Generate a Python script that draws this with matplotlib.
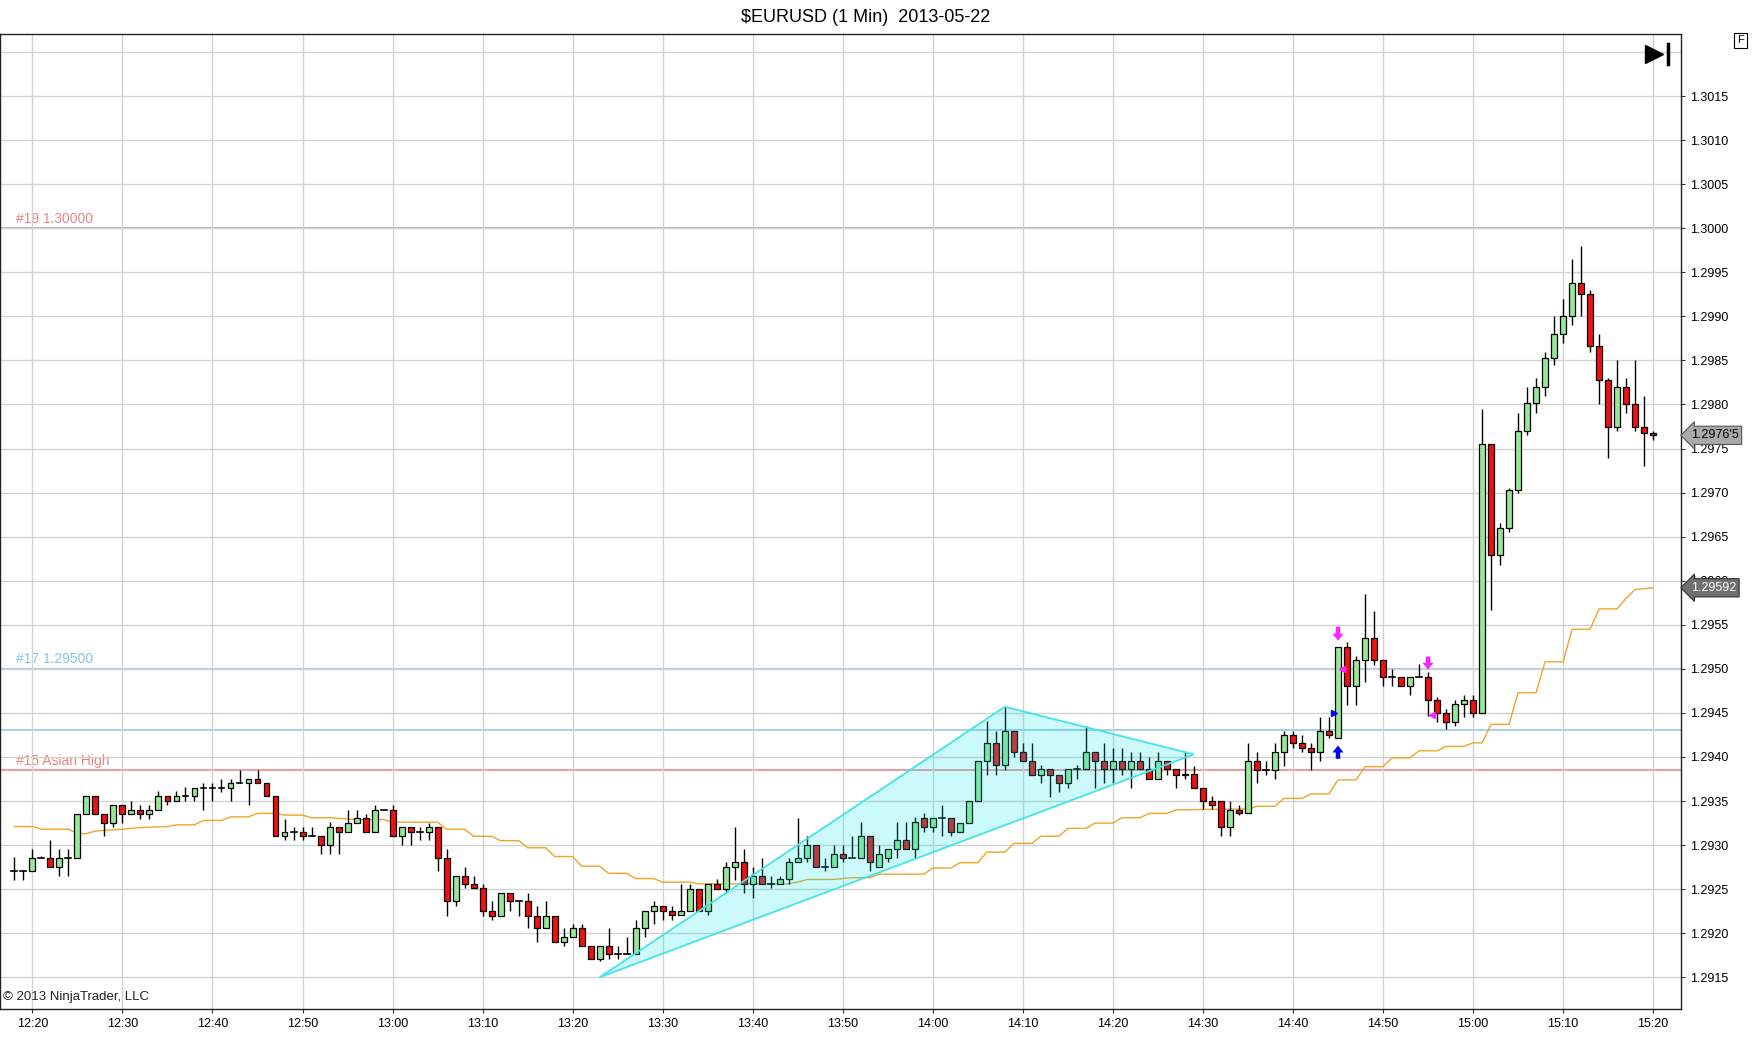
import numpy as np
import matplotlib
matplotlib.use('Agg')
import matplotlib.pyplot as plt
from matplotlib.patches import Rectangle, Polygon
from matplotlib.transforms import blended_transform_factory

plt.rcParams['font.family'] = ['Liberation Sans', 'DejaVu Sans']

# =============================================================================
# DADOS
# =============================================================================

bar_times = [
    '12:18', '12:19', '12:20', '12:21', '12:22', '12:23', '12:24', '12:25', '12:26', '12:27',
    '12:28', '12:29', '12:30', '12:31', '12:32', '12:33', '12:34', '12:35', '12:36', '12:37',
    '12:38', '12:39', '12:40', '12:41', '12:42', '12:43', '12:44', '12:45', '12:46', '12:47',
    '12:48', '12:49', '12:50', '12:51', '12:52', '12:53', '12:54', '12:55', '12:56', '12:57',
    '12:58', '12:59', '13:00', '13:01', '13:02', '13:03', '13:04', '13:05', '13:06', '13:07',
    '13:08', '13:09', '13:10', '13:11', '13:12', '13:13', '13:14', '13:15', '13:16', '13:17',
    '13:18', '13:19', '13:20', '13:21', '13:22', '13:23', '13:24', '13:25', '13:26', '13:27',
    '13:28', '13:29', '13:30', '13:31', '13:32', '13:33', '13:34', '13:35', '13:36', '13:37',
    '13:38', '13:39', '13:40', '13:41', '13:42', '13:43', '13:44', '13:45', '13:46', '13:47',
    '13:48', '13:49', '13:50', '13:51', '13:52', '13:53', '13:54', '13:55', '13:56', '13:57',
    '13:58', '13:59', '14:00', '14:01', '14:02', '14:03', '14:04', '14:05', '14:06', '14:07',
    '14:08', '14:09', '14:10', '14:11', '14:12', '14:13', '14:14', '14:15', '14:16', '14:17',
    '14:18', '14:19', '14:20', '14:21', '14:22', '14:23', '14:24', '14:25', '14:26', '14:27',
    '14:28', '14:29', '14:30', '14:31', '14:32', '14:33', '14:34', '14:35', '14:36', '14:37',
    '14:38', '14:39', '14:40', '14:41', '14:42', '14:43', '14:44', '14:45', '14:46', '14:47',
    '14:48', '14:49', '14:50', '14:51', '14:52', '14:53', '14:54', '14:55', '14:56', '14:57',
    '14:58', '14:59', '15:00', '15:01', '15:02', '15:03', '15:04', '15:05', '15:06', '15:07',
    '15:08', '15:09', '15:10', '15:11', '15:12', '15:13', '15:14', '15:15', '15:16', '15:17',
    '15:18', '15:19', '15:20',
]

opens = [
    1.29271, 1.29271, 1.29271, 1.29285, 1.29285, 1.29275, 1.29285, 1.29285, 1.29335, 1.29356,
    1.29335, 1.29325, 1.29346, 1.29335, 1.29340, 1.29335, 1.29340, 1.29356, 1.29350, 1.29356,
    1.29356, 1.29365, 1.29365, 1.29365, 1.29365, 1.29371, 1.29371, 1.29375, 1.29371, 1.29356,
    1.29310, 1.29315, 1.29315, 1.29310, 1.29310, 1.29300, 1.29321, 1.29315, 1.29325, 1.29331,
    1.29315, 1.29340, 1.29340, 1.29310, 1.29321, 1.29315, 1.29315, 1.29321, 1.29285, 1.29236,
    1.29265, 1.29256, 1.29251, 1.29225, 1.29220, 1.29246, 1.29236, 1.29236, 1.29220, 1.29206,
    1.29220, 1.29190, 1.29196, 1.29206, 1.29186, 1.29171, 1.29186, 1.29176, 1.29176, 1.29176,
    1.29206, 1.29225, 1.29231, 1.29225, 1.29221, 1.29225, 1.29250, 1.29225, 1.29256, 1.29250,
    1.29275, 1.29281, 1.29256, 1.29265, 1.29256, 1.29256, 1.29261, 1.29281, 1.29285, 1.29300,
    1.29275, 1.29275, 1.29290, 1.29285, 1.29285, 1.29310, 1.29275, 1.29285, 1.29295, 1.29306,
    1.29295, 1.29331, 1.29321, 1.29331, 1.29331, 1.29315, 1.29325, 1.29350, 1.29395, 1.29416,
    1.29391, 1.29430, 1.29406, 1.29395, 1.29380, 1.29386, 1.29380, 1.29370, 1.29386, 1.29386,
    1.29406, 1.29395, 1.29386, 1.29395, 1.29386, 1.29395, 1.29386, 1.29375, 1.29395, 1.29386,
    1.29380, 1.29381, 1.29365, 1.29350, 1.29350, 1.29321, 1.29340, 1.29336, 1.29395, 1.29385,
    1.29385, 1.29406, 1.29425, 1.29416, 1.29410, 1.29406, 1.29430, 1.29421, 1.29525, 1.29481,
    1.29510, 1.29535, 1.29510, 1.29491, 1.29491, 1.29481, 1.29491, 1.29491, 1.29465, 1.29450,
    1.29440, 1.29460, 1.29465, 1.29450, 1.29755, 1.29629, 1.29660, 1.29703, 1.29770, 1.29802,
    1.29820, 1.29853, 1.29880, 1.29900, 1.29938, 1.29925, 1.29866, 1.29828, 1.29774, 1.29820,
    1.29800, 1.29774, 1.29768,
]

highs = [
    1.29286, 1.29272, 1.29296, 1.29288, 1.29306, 1.29296, 1.29296, 1.29335, 1.29356, 1.29356,
    1.29335, 1.29346, 1.29346, 1.29350, 1.29346, 1.29346, 1.29361, 1.29356, 1.29361, 1.29366,
    1.29365, 1.29371, 1.29371, 1.29375, 1.29375, 1.29385, 1.29375, 1.29385, 1.29371, 1.29356,
    1.29330, 1.29321, 1.29321, 1.29321, 1.29310, 1.29326, 1.29321, 1.29340, 1.29340, 1.29335,
    1.29346, 1.29340, 1.29346, 1.29321, 1.29321, 1.29321, 1.29325, 1.29321, 1.29296, 1.29265,
    1.29275, 1.29265, 1.29256, 1.29236, 1.29246, 1.29246, 1.29236, 1.29246, 1.29231, 1.29236,
    1.29220, 1.29206, 1.29211, 1.29211, 1.29186, 1.29186, 1.29206, 1.29186, 1.29196, 1.29215,
    1.29225, 1.29236, 1.29231, 1.29231, 1.29256, 1.29256, 1.29250, 1.29256, 1.29261, 1.29281,
    1.29321, 1.29295, 1.29275, 1.29285, 1.29265, 1.29265, 1.29285, 1.29331, 1.29310, 1.29300,
    1.29285, 1.29300, 1.29300, 1.29310, 1.29326, 1.29310, 1.29300, 1.29295, 1.29326, 1.29326,
    1.29332, 1.29336, 1.29331, 1.29346, 1.29331, 1.29325, 1.29350, 1.29395, 1.29441, 1.29429,
    1.29457, 1.29430, 1.29416, 1.29416, 1.29391, 1.29386, 1.29380, 1.29386, 1.29391, 1.29435,
    1.29406, 1.29416, 1.29410, 1.29410, 1.29406, 1.29406, 1.29400, 1.29406, 1.29395, 1.29386,
    1.29406, 1.29390, 1.29365, 1.29356, 1.29350, 1.29350, 1.29345, 1.29416, 1.29406, 1.29395,
    1.29416, 1.29430, 1.29430, 1.29425, 1.29416, 1.29445, 1.29445, 1.29525, 1.29530, 1.29515,
    1.29585, 1.29566, 1.29510, 1.29500, 1.29491, 1.29491, 1.29506, 1.29496, 1.29468, 1.29455,
    1.29465, 1.29470, 1.29470, 1.29795, 1.29755, 1.29665, 1.29705, 1.29790, 1.29820, 1.29830,
    1.29860, 1.29900, 1.29920, 1.29965, 1.29980, 1.29930, 1.29880, 1.29830, 1.29850, 1.29830,
    1.29850, 1.29810, 1.29770,
]

lows = [
    1.29260, 1.29260, 1.29271, 1.29285, 1.29275, 1.29265, 1.29265, 1.29285, 1.29335, 1.29335,
    1.29310, 1.29320, 1.29325, 1.29335, 1.29330, 1.29330, 1.29340, 1.29346, 1.29350, 1.29350,
    1.29350, 1.29340, 1.29350, 1.29360, 1.29350, 1.29371, 1.29346, 1.29371, 1.29356, 1.29310,
    1.29306, 1.29306, 1.29306, 1.29310, 1.29290, 1.29290, 1.29290, 1.29315, 1.29325, 1.29315,
    1.29315, 1.29340, 1.29310, 1.29300, 1.29300, 1.29306, 1.29306, 1.29271, 1.29220, 1.29231,
    1.29251, 1.29251, 1.29220, 1.29215, 1.29220, 1.29225, 1.29220, 1.29206, 1.29190, 1.29206,
    1.29190, 1.29186, 1.29196, 1.29186, 1.29171, 1.29168, 1.29171, 1.29171, 1.29176, 1.29176,
    1.29196, 1.29211, 1.29215, 1.29215, 1.29221, 1.29225, 1.29225, 1.29221, 1.29250, 1.29246,
    1.29260, 1.29246, 1.29240, 1.29256, 1.29251, 1.29256, 1.29256, 1.29281, 1.29281, 1.29275,
    1.29271, 1.29275, 1.29281, 1.29285, 1.29285, 1.29271, 1.29275, 1.29281, 1.29285, 1.29295,
    1.29285, 1.29315, 1.29315, 1.29310, 1.29310, 1.29315, 1.29325, 1.29350, 1.29380, 1.29380,
    1.29385, 1.29400, 1.29395, 1.29380, 1.29370, 1.29355, 1.29360, 1.29365, 1.29375, 1.29386,
    1.29365, 1.29370, 1.29370, 1.29380, 1.29365, 1.29386, 1.29375, 1.29375, 1.29380, 1.29365,
    1.29375, 1.29365, 1.29341, 1.29341, 1.29310, 1.29310, 1.29334, 1.29336, 1.29370, 1.29380,
    1.29375, 1.29390, 1.29410, 1.29406, 1.29385, 1.29395, 1.29421, 1.29421, 1.29459, 1.29459,
    1.29485, 1.29504, 1.29481, 1.29481, 1.29481, 1.29470, 1.29491, 1.29447, 1.29440, 1.29432,
    1.29435, 1.29445, 1.29445, 1.29450, 1.29567, 1.29618, 1.29655, 1.29700, 1.29765, 1.29790,
    1.29810, 1.29845, 1.29870, 1.29890, 1.29900, 1.29860, 1.29800, 1.29739, 1.29770, 1.29790,
    1.29770, 1.29730, 1.29760,
]

closes = [
    1.29271, 1.29271, 1.29285, 1.29285, 1.29275, 1.29285, 1.29285, 1.29335, 1.29356, 1.29335,
    1.29325, 1.29346, 1.29335, 1.29340, 1.29335, 1.29340, 1.29356, 1.29350, 1.29356, 1.29356,
    1.29365, 1.29365, 1.29365, 1.29365, 1.29371, 1.29371, 1.29375, 1.29371, 1.29356, 1.29310,
    1.29315, 1.29315, 1.29310, 1.29310, 1.29300, 1.29321, 1.29315, 1.29325, 1.29331, 1.29315,
    1.29340, 1.29340, 1.29310, 1.29321, 1.29315, 1.29315, 1.29321, 1.29285, 1.29236, 1.29265,
    1.29256, 1.29251, 1.29225, 1.29220, 1.29246, 1.29236, 1.29236, 1.29220, 1.29206, 1.29220,
    1.29190, 1.29196, 1.29206, 1.29186, 1.29171, 1.29186, 1.29176, 1.29176, 1.29176, 1.29206,
    1.29225, 1.29231, 1.29225, 1.29221, 1.29225, 1.29250, 1.29225, 1.29256, 1.29250, 1.29275,
    1.29281, 1.29256, 1.29265, 1.29256, 1.29256, 1.29261, 1.29281, 1.29285, 1.29300, 1.29275,
    1.29275, 1.29290, 1.29285, 1.29285, 1.29310, 1.29281, 1.29290, 1.29295, 1.29306, 1.29295,
    1.29326, 1.29321, 1.29331, 1.29331, 1.29315, 1.29325, 1.29350, 1.29395, 1.29416, 1.29391,
    1.29430, 1.29406, 1.29395, 1.29380, 1.29386, 1.29380, 1.29370, 1.29386, 1.29386, 1.29406,
    1.29395, 1.29386, 1.29395, 1.29386, 1.29395, 1.29386, 1.29375, 1.29395, 1.29386, 1.29380,
    1.29381, 1.29365, 1.29350, 1.29345, 1.29321, 1.29340, 1.29336, 1.29395, 1.29385, 1.29385,
    1.29406, 1.29425, 1.29416, 1.29410, 1.29406, 1.29430, 1.29425, 1.29525, 1.29481, 1.29510,
    1.29535, 1.29510, 1.29491, 1.29491, 1.29481, 1.29491, 1.29491, 1.29465, 1.29450, 1.29440,
    1.29460, 1.29465, 1.29450, 1.29755, 1.29629, 1.29660, 1.29703, 1.29770, 1.29802, 1.29820,
    1.29853, 1.29880, 1.29900, 1.29938, 1.29925, 1.29866, 1.29828, 1.29774, 1.29820, 1.29800,
    1.29774, 1.29768, 1.29765,
]

# média (linha laranja em degraus): vértices lidos
ma_times = [
    '12:18', '12:20', '12:21', '12:24', '12:25', '12:26', '12:27', '12:30', '12:32', '12:35',
    '12:36', '12:38', '12:39', '12:41', '12:42', '12:44', '12:45', '12:47', '12:48', '12:50',
    '12:51', '12:53', '12:56', '12:59', '13:00', '13:05', '13:06', '13:08', '13:09', '13:11',
    '13:12', '13:14', '13:15', '13:17', '13:18', '13:20', '13:21', '13:23', '13:24', '13:26',
    '13:27', '13:29', '13:30', '13:33', '13:34', '13:44', '13:45', '13:46', '13:49', '13:51',
    '13:53', '13:54', '13:59', '14:00', '14:02', '14:03', '14:05', '14:06', '14:08', '14:09',
    '14:11', '14:12', '14:14', '14:15', '14:17', '14:18', '14:20', '14:21', '14:23', '14:24',
    '14:26', '14:27', '14:35', '14:36', '14:38', '14:39', '14:41', '14:42', '14:44', '14:45',
    '14:47', '14:48', '14:50', '14:51', '14:53', '14:54', '14:56', '14:57', '14:59', '15:00',
    '15:01', '15:02', '15:04', '15:05', '15:07', '15:08', '15:10', '15:11', '15:13', '15:14',
    '15:16', '15:17', '15:18', '15:20',
]
ma_values = [
    1.29321, 1.29321, 1.29318, 1.29318, 1.29313, 1.29313, 1.29316, 1.29318, 1.29320, 1.29321,
    1.29323, 1.29323, 1.29328, 1.29328, 1.29332, 1.29332, 1.29336, 1.29336, 1.29334, 1.29334,
    1.29331, 1.29331, 1.29329, 1.29329, 1.29326, 1.29326, 1.29318, 1.29318, 1.29310, 1.29310,
    1.29305, 1.29305, 1.29297, 1.29297, 1.29287, 1.29287, 1.29276, 1.29276, 1.29268, 1.29268,
    1.29262, 1.29262, 1.29258, 1.29258, 1.29256, 1.29256, 1.29258, 1.29261, 1.29261, 1.29263,
    1.29263, 1.29267, 1.29267, 1.29274, 1.29274, 1.29280, 1.29280, 1.29292, 1.29292, 1.29302,
    1.29302, 1.29310, 1.29310, 1.29319, 1.29319, 1.29325, 1.29325, 1.29331, 1.29331, 1.29336,
    1.29336, 1.29340, 1.29341, 1.29344, 1.29344, 1.29353, 1.29353, 1.29358, 1.29358, 1.29374,
    1.29374, 1.29389, 1.29389, 1.29399, 1.29399, 1.29407, 1.29407, 1.29412, 1.29412, 1.29416,
    1.29416, 1.29437, 1.29437, 1.29473, 1.29473, 1.29508, 1.29508, 1.29545, 1.29545, 1.29568,
    1.29568, 1.29580, 1.29590, 1.29592,
]

# níveis horizontais
level_prices = [1.30000, 1.29500, 1.29431, 1.29385]
level_colors = ['#a0a0a0', '#8fc3dd', '#8fc3dd', '#e8808c']
level_labels = ['#19 1.30000', '#17 1.29500', '', '#15 Asian High']
level_label_colors = ['#e88484', '#86c4e2', '', '#e88484']

# triângulo (desenho)
tri_times = ['13:23', '14:08', '14:29']
tri_prices = [1.29150, 1.29457, 1.29403]

# setas de sinal
arrow_times = ['14:45', '14:55', '14:45']
arrow_tail = [1.29548, 1.29514, 1.29398]
arrow_tip = [1.29532, 1.29499, 1.29413]
arrow_colors = ['#ff22ff', '#ff22ff', '#0000ee']

last_price = 1.29765
last_price_text = "1.2976'5"
ma_last_text = '1.29592'

x_ticks = ['12:20', '12:30', '12:40', '12:50', '13:00', '13:10', '13:20', '13:30',
           '13:40', '13:50', '14:00', '14:10', '14:20', '14:30', '14:40', '14:50',
           '15:00', '15:10', '15:20']

UP = '#98e698'
DOWN = '#ee1111'


def to_min(t):
    h, m = t.split(':')
    return int(h) * 60 + int(m) - (12 * 60 + 20)


# =============================================================================
# FIGURA
# =============================================================================

fig = plt.figure(figsize=(17.52, 10.64), dpi=100)
ax = fig.add_axes([0.0, 0.0517, 0.9595, 0.9168])
ax.set_xlim(-3.6, 183.1)
ax.set_ylim(1.29114, 1.30221)

# grade
yt = np.arange(1.2915, 1.30151, 0.0005)
ax.set_yticks(yt)
ax.set_yticklabels([f'{v:.4f}' for v in yt])
ax.yaxis.tick_right()
xt = [to_min(t) for t in x_ticks]
ax.set_xticks(xt)
ax.set_xticklabels(x_ticks)
ax.grid(True, color='#d2d2d2', lw=1, zorder=0)
ax.axhline(1.3020, color='#d2d2d2', lw=1, zorder=0)
ax.tick_params(axis='both', labelsize=9, length=3, color='#333333')
for sp in ax.spines.values():
    sp.set_color('#222222')
    sp.set_linewidth(1)

# níveis
trans = blended_transform_factory(ax.transAxes, ax.transData)
for p, c, lab, lc in zip(level_prices, level_colors, level_labels, level_label_colors):
    ax.axhline(p, color=c, lw=1.1, zorder=1)
    if lab:
        ax.text(0.0095, p + 0.00003, lab, transform=trans, color=lc,
                fontsize=10, ha='left', va='bottom', zorder=1)

# média laranja
ax.plot([to_min(t) for t in ma_times], ma_values, color='#f0a428', lw=1.0, zorder=2)

# candles
W = 0.66
for t, o, h, l, c in zip(bar_times, opens, highs, lows, closes):
    x = to_min(t)
    ax.plot([x, x], [l, h], color='black', lw=1.0, zorder=3, solid_capstyle='butt')
    if abs(c - o) < 1e-7:
        ax.plot([x - W / 2, x + W / 2], [o, o], color='black', lw=1.2, zorder=4)
    else:
        fc = UP if c > o else DOWN
        ax.add_patch(Rectangle((x - W / 2, min(o, c)), W, abs(c - o),
                               facecolor=fc, edgecolor='black', lw=0.9, zorder=4))

# triângulo ciano por cima
tri_xy = list(zip([to_min(t) for t in tri_times], tri_prices))
ax.add_patch(Polygon(tri_xy, closed=True, facecolor='#00e5e5', alpha=0.2,
                     edgecolor='none', zorder=5))
ax.add_patch(Polygon(tri_xy, closed=True, fill=False, edgecolor='#44e4e8',
                     lw=1.3, zorder=5.5))

# setas de sinal
for t, p0, p1, col in zip(arrow_times, arrow_tail, arrow_tip, arrow_colors):
    x = to_min(t)
    ax.annotate('', xy=(x, p1), xytext=(x, p0),
                arrowprops=dict(facecolor=col, edgecolor='none', width=3.2,
                                headwidth=8, headlength=5, shrink=0), zorder=6)
ax.plot([to_min('14:45') - 0.45], [1.2945], marker='>', ms=5, color='#0000ee', zorder=6)
ax.plot([to_min('14:45') + 0.4], [1.2950], marker='<', ms=5, color='#ff22ff', zorder=6)
ax.plot([to_min('14:55') + 0.4], [1.29448], marker='<', ms=5, color='#ff22ff', zorder=6)

# caixas de preço no eixo direito
ax.annotate(last_price_text, xy=(1, last_price), xycoords=trans,
            xytext=(7, 0), textcoords='offset points', ha='left', va='center',
            fontsize=9, color='black', annotation_clip=False, zorder=10,
            bbox=dict(boxstyle='larrow,pad=0.25', fc='#a9a9a9', ec='#555555', lw=0.8))
ax.annotate(ma_last_text, xy=(1, ma_values[-1]), xycoords=trans,
            xytext=(7, 0), textcoords='offset points', ha='left', va='center',
            fontsize=9, color='white', annotation_clip=False, zorder=10,
            bbox=dict(boxstyle='larrow,pad=0.25', fc='#707070', ec='#333333', lw=0.8))

# ícone ▶| e caixa F
ax.plot([0.984], [0.979], transform=ax.transAxes, marker='>', ms=13,
        color='black', clip_on=False)
ax.plot([0.9925, 0.9925], [0.969, 0.989], transform=ax.transAxes, lw=2.5,
        color='black', clip_on=False)
fig.text(0.9935, 0.962, 'F', fontsize=8, ha='center', va='center',
         bbox=dict(boxstyle='square,pad=0.25', fc='white', ec='black', lw=0.8))

ax.text(0.002, 0.012, '\u00a9 2013 NinjaTrader, LLC', transform=ax.transAxes,
        fontsize=9.5, ha='left', va='center', color='#222222')

fig.text(0.494, 0.984, '$EURUSD (1 Min)  2013-05-22', ha='center', va='center',
         fontsize=13)

fig.savefig('out.png', dpi=100)
plt.close(fig)
